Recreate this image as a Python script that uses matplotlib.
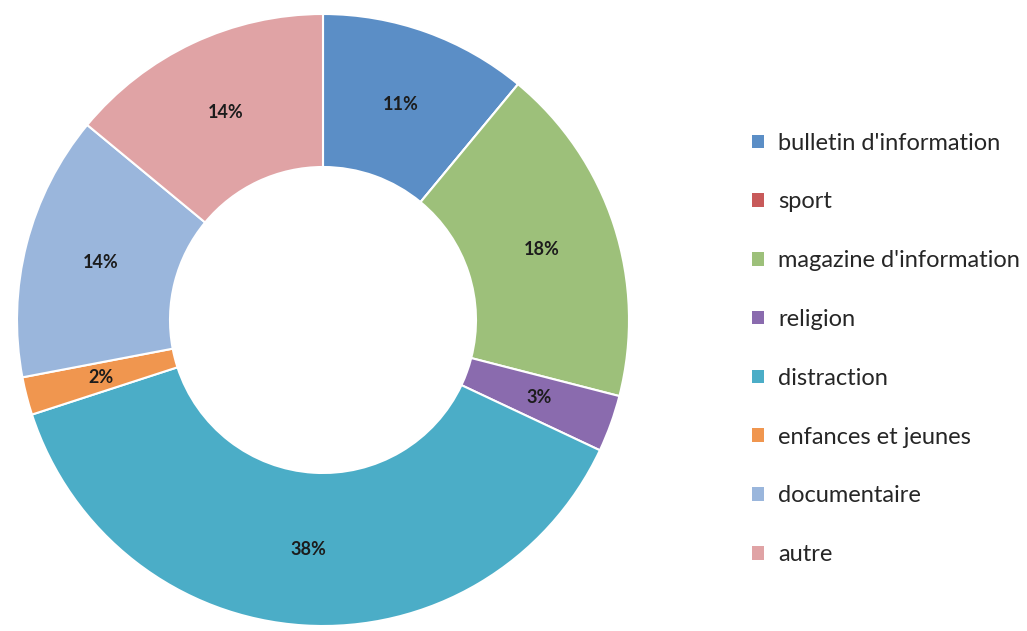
import matplotlib.pyplot as plt
from matplotlib.patches import Patch

# Répartition des programmes par genre (en %)
categories = ["bulletin d'information", "sport", "magazine d'information", "religion",
              "distraction", "enfances et jeunes", "documentaire", "autre"]
shares = [11, 0, 18, 3, 38, 2, 14, 14]
colors = ["#5B8EC6", "#C85A5A", "#9DC07A", "#8A6BAE",
          "#4BADC7", "#F0964F", "#9AB6DC", "#E0A3A5"]

plt.rcParams["font.family"] = ["Lato", "DejaVu Sans"]

fig = plt.figure(figsize=(10.27, 6.31), dpi=100)
W, H = 1027, 631
cx, cy, r = 323, 320, 306
ax = fig.add_axes([(cx - r) / W, (H - cy - r) / H, 2 * r / W, 2 * r / H])

wedges, texts, autotexts = ax.pie(
    shares, colors=colors, startangle=90, counterclock=False, radius=1,
    autopct=lambda p: f"{p:.0f}%" if p > 0.5 else "", pctdistance=0.75,
    wedgeprops=dict(width=0.5, edgecolor="white", linewidth=1.5),
    textprops=dict(fontsize=13, fontweight="bold", color="#1c1c1c"))
ax.set_xlim(-1, 1)
ax.set_ylim(-1, 1)
ax.set_aspect("equal")
ax.axis("off")

handles = [Patch(facecolor=c, edgecolor="none") for c in colors]
fig.legend(handles, categories, loc="center left", bbox_to_anchor=(731 / W, 0.447),
           frameon=False, fontsize=17, handlelength=0.5, handleheight=0.5,
           handletextpad=0.6, labelspacing=1.6, labelcolor="#262626")

fig.savefig("out.png", dpi=100)
